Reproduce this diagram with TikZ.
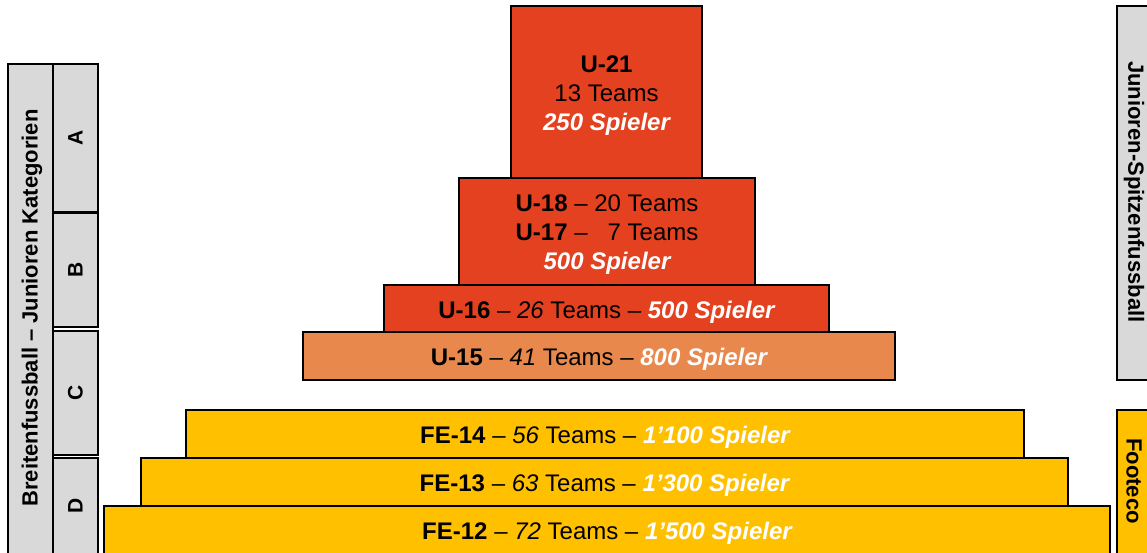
\documentclass[tikz,border=0pt]{standalone}
\usepackage{fontspec}
\setmainfont{Liberation Sans}
\definecolor{rot}{HTML}{E3411F}
\definecolor{orng}{HTML}{E8884C}
\definecolor{gelb}{HTML}{FFC000}
\definecolor{grau}{HTML}{D9D9D9}
\tikzset{
  lvl/.style={draw=black, line width=1.8pt, inner sep=0pt, outer sep=0pt},
  lvltext/.style={inner sep=0pt, align=center, yshift=-3.5pt,
    font=\fontsize{24}{29}\selectfont},
  side/.style={draw=black, line width=1.6pt, fill=grau, inner sep=0pt, outer sep=0pt},
  sidetext/.style={font=\bfseries\fontsize{22}{25}\selectfont, inner sep=0pt},
  cat/.style={font=\bfseries\fontsize{21}{24}\selectfont, inner sep=0pt, rotate=90}
}
\newcommand{\spl}[1]{\textcolor{white}{\bfseries\itshape #1 Spieler}}
\begin{document}
\begin{tikzpicture}[x=1pt,y=-1pt]
\useasboundingbox (0,0) rectangle (1147,553);
% left labels
\node[side, minimum width=45pt, minimum height=510pt, anchor=north west] (lbig) at (8,64) {};
\node[sidetext, rotate=90] (ltext) at (32,308) {Breitenfussball – Junioren Kategorien};
\node[side, minimum width=45pt, minimum height=148pt, anchor=north west] (ca) at (53,64) {};
\node[cat] (la) at (ca.center) {A};
\node[side, minimum width=45pt, minimum height=114pt, anchor=north west] (cb) at (53,213) {};
\node[cat] (lb) at (cb.center) {B};
\node[side, minimum width=45pt, minimum height=124pt, anchor=north west] (cc) at (53,331) {};
\node[cat] (lc) at (cc.center) {C};
\node[side, minimum width=45pt, minimum height=120pt, anchor=north west] (cd) at (53,458) {};
\node[cat] (ld) at (75.5,506) {D};
% right labels
\node[side, minimum width=60pt, minimum height=374pt, anchor=north west] (rtop) at (1117,6) {};
\node[sidetext, rotate=-90] (rtext) at (1134,192) {Junioren-Spitzenfussball};
\node[side, fill=gelb, minimum width=60pt, minimum height=170pt, anchor=north west] (rbot) at (1117,410) {};
\node[sidetext, rotate=-90] (rftext) at (1134,481) {Footeco};
% pyramid
\node[lvl, fill=rot, minimum width=191pt, minimum height=172pt] (u21) at (606.5,92) {};
\node[lvltext] (u21t) at (u21.center) {\textbf{U-21}\\13 Teams\\\spl{250}};
\node[lvl, fill=rot, minimum width=296pt, minimum height=107pt] (u18) at (607,231.5) {};
\node[lvltext] (u18t) at (u18.center)
  {\textbf{U-18} – 20 Teams\\\textbf{U-17} – \phantom{2}7 Teams\\\spl{500}};
\node[lvl, fill=rot, minimum width=445pt, minimum height=47pt] (u16) at (606.5,308.5) {};
\node[lvltext] (u16t) at (u16.center) {\textbf{U-16} – \textit{26} Teams – \spl{500}};
\node[lvl, fill=orng, minimum width=592pt, minimum height=48pt] (u15) at (599,356) {};
\node[lvltext] (u15t) at (u15.center) {\textbf{U-15} – \textit{41} Teams – \spl{800}};
\node[lvl, fill=gelb, minimum width=838pt, minimum height=48pt] (fe14) at (605,434) {};
\node[lvltext] (fe14t) at (fe14.center) {\textbf{FE-14} – \textit{56} Teams – \spl{1’100}};
\node[lvl, fill=gelb, minimum width=927pt, minimum height=48pt] (fe13) at (604.5,482) {};
\node[lvltext] (fe13t) at (fe13.center) {\textbf{FE-13} – \textit{63} Teams – \spl{1’300}};
\node[lvl, fill=gelb, minimum width=1006pt, minimum height=60pt, anchor=north] (fe12) at (607,506) {};
\node[lvltext] (fe12t) at (607,530) {\textbf{FE-12} – \textit{72} Teams – \spl{1’500}};
\end{tikzpicture}
\end{document}
